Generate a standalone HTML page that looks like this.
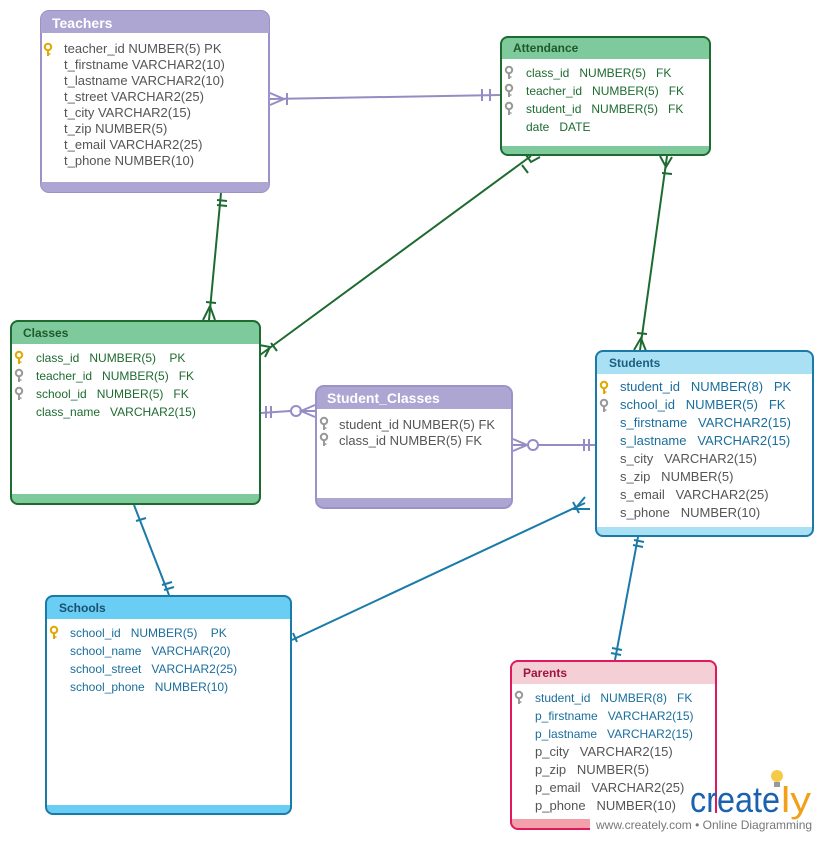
<!DOCTYPE html>
<html><head><meta charset="utf-8"><style>
body{margin:0;background:#fff;}
svg text{font-family:"Liberation Sans",sans-serif;white-space:pre;}
</style></head><body>
<svg width="825" height="840" viewBox="0 0 825 840" xmlns="http://www.w3.org/2000/svg" xml:space="preserve">
<defs>
<g id="key"><circle cx="0" cy="-4" r="3.2" fill="none" stroke-width="2"/><line x1="0" y1="-1" x2="0" y2="5" stroke-width="2"/><line x1="0" y1="3" x2="2.5" y2="3" stroke-width="1.5"/></g>
</defs>
<g fill="none" stroke-width="2">
<g stroke="#958CC4">
<line x1="270" y1="99" x2="500" y2="95"/>
<path d="M270 93 L284 99 L270 105"/><line x1="287" y1="93" x2="287" y2="105"/>
<line x1="482" y1="89" x2="482" y2="101"/><line x1="490" y1="89" x2="490" y2="101"/>
<line x1="261" y1="413" x2="290" y2="411"/><circle cx="296" cy="411" r="5"/><line x1="301" y1="411" x2="315" y2="411"/>
<path d="M315 405 L301 411 L315 417"/>
<line x1="266" y1="406" x2="266" y2="418"/><line x1="271" y1="406" x2="271" y2="418"/>
<line x1="513" y1="445" x2="528" y2="445"/><circle cx="533" cy="445" r="5"/><line x1="538" y1="445" x2="595" y2="445"/>
<path d="M513 439 L527 445 L513 451"/>
<line x1="584" y1="439" x2="584" y2="451"/><line x1="589" y1="439" x2="589" y2="451"/>
</g>
<g stroke="#1E6B30">
<line x1="221" y1="193" x2="209" y2="320"/>
<line x1="217" y1="200" x2="227" y2="201"/><line x1="217" y1="205" x2="227" y2="206"/>
<line x1="206" y1="302" x2="216" y2="303"/><path d="M203 320 L210 306 L215 320"/>
<line x1="531" y1="156" x2="260" y2="355"/>
<path d="M259 345 L270 347 L265 357"/><line x1="271" y1="343" x2="277" y2="351"/>
<line x1="522" y1="165" x2="528" y2="173"/><path d="M526 155 L531 162 L540 157"/>
<line x1="667" y1="156" x2="640" y2="350"/>
<path d="M660 156 L666 167 L672 157"/><line x1="662" y1="173" x2="672" y2="174"/>
<path d="M634 350 L641 338 L646 351"/><line x1="637" y1="333" x2="647" y2="334"/>
</g>
<g stroke="#1A7AA8">
<line x1="134" y1="505" x2="169" y2="595"/>
<line x1="136" y1="521" x2="146" y2="518"/>
<line x1="162" y1="585" x2="172" y2="582"/><line x1="164" y1="590" x2="174" y2="587"/>
<line x1="585" y1="503" x2="292" y2="640"/>
<path d="M585 497 L575 509 L590 509"/><line x1="573" y1="502" x2="579" y2="513"/>
<line x1="293" y1="633" x2="297" y2="642"/>
<line x1="638" y1="537" x2="615" y2="660"/>
<line x1="634" y1="540" x2="644" y2="542"/><line x1="633" y1="545" x2="643" y2="547"/>
<line x1="612" y1="648" x2="622" y2="650"/><line x1="611" y1="653" x2="621" y2="655"/>
</g>
</g>

<g>
<rect x="41" y="11" width="228" height="181" rx="8" fill="#fff" stroke="#9B92C9" stroke-width="2"/>
<path d="M41 33 V19 a8 8 0 0 1 8 -8 H261 a8 8 0 0 1 8 8 V33 Z" fill="#ADA6D3"/>
<path d="M41 182 H269 V184 a8 8 0 0 1 -8 8 H49 a8 8 0 0 1 -8 -8 Z" fill="#ADA6D3"/>
<text x="52" y="28" font-size="14" font-weight="bold" fill="#fff">Teachers</text>
<use href="#key" x="48" y="51" stroke="#E0A800"/>
<g font-size="13" fill="#555"><text x="64" y="53">teacher_id NUMBER(5) PK</text><text x="64" y="69">t_firstname VARCHAR2(10)</text><text x="64" y="85">t_lastname VARCHAR2(10)</text><text x="64" y="101">t_street VARCHAR2(25)</text><text x="64" y="117">t_city VARCHAR2(15)</text><text x="64" y="133">t_zip NUMBER(5)</text><text x="64" y="149">t_email VARCHAR2(25)</text><text x="64" y="165">t_phone NUMBER(10)</text></g>
</g>

<g>
<rect x="501" y="37" width="209" height="118" rx="7" fill="#fff"/>
<path d="M501 59 V44 a7 7 0 0 1 7 -7 H703 a7 7 0 0 1 7 7 V59 Z" fill="#7FCA9C"/>
<path d="M501 146 H710 V148 a7 7 0 0 1 -7 7 H508 a7 7 0 0 1 -7 -7 Z" fill="#7FCA9C"/>
<rect x="501" y="37" width="209" height="118" rx="7" fill="none" stroke="#1E6B30" stroke-width="2"/>
<text x="513" y="52" font-size="12" font-weight="bold" fill="#1E5A2A">Attendance</text>
<use href="#key" x="509" y="74" stroke="#999"/><use href="#key" x="509" y="92" stroke="#999"/><use href="#key" x="509" y="110" stroke="#999"/>
<g font-size="12" fill="#1E6B30"><text x="526" y="77">class_id   NUMBER(5)   FK</text><text x="526" y="95">teacher_id   NUMBER(5)   FK</text><text x="526" y="113">student_id   NUMBER(5)   FK</text><text x="526" y="131">date   DATE</text></g>
</g>

<g>
<rect x="11" y="321" width="249" height="183" rx="7" fill="#fff"/>
<path d="M11 344 V328 a7 7 0 0 1 7 -7 H253 a7 7 0 0 1 7 7 V344 Z" fill="#7FCA9C"/>
<path d="M11 494 H260 V497 a7 7 0 0 1 -7 7 H18 a7 7 0 0 1 -7 -7 Z" fill="#7FCA9C"/>
<rect x="11" y="321" width="249" height="183" rx="7" fill="none" stroke="#1E6B30" stroke-width="2"/>
<text x="23" y="337" font-size="12" font-weight="bold" fill="#1E5A2A">Classes</text>
<use href="#key" x="19" y="359" stroke="#E0A800"/><use href="#key" x="19" y="377" stroke="#999"/><use href="#key" x="19" y="395" stroke="#999"/>
<g font-size="12" fill="#1E6B30"><text x="36" y="362">class_id   NUMBER(5)    PK</text><text x="36" y="380">teacher_id   NUMBER(5)   FK</text><text x="36" y="398">school_id   NUMBER(5)   FK</text><text x="36" y="416">class_name   VARCHAR2(15)</text></g>
</g>

<g>
<rect x="316" y="386" width="196" height="122" rx="8" fill="#fff"/>
<path d="M316 409 V394 a8 8 0 0 1 8 -8 H504 a8 8 0 0 1 8 8 V409 Z" fill="#ADA6D3"/>
<path d="M316 498 H512 V500 a8 8 0 0 1 -8 8 H324 a8 8 0 0 1 -8 -8 Z" fill="#ADA6D3"/>
<rect x="316" y="386" width="196" height="122" rx="8" fill="none" stroke="#9B92C9" stroke-width="2"/>
<text x="327" y="403" font-size="14" font-weight="bold" fill="#fff">Student_Classes</text>
<use href="#key" x="324" y="425" stroke="#999"/><use href="#key" x="324" y="441" stroke="#999"/>
<g font-size="13" fill="#555"><text x="339" y="429">student_id NUMBER(5) FK</text><text x="339" y="445">class_id NUMBER(5) FK</text></g>
</g>

<g>
<rect x="596" y="351" width="217" height="185" rx="7" fill="#fff"/>
<path d="M596 374 V358 a7 7 0 0 1 7 -7 H806 a7 7 0 0 1 7 7 V374 Z" fill="#A9E0F3"/>
<path d="M596 527 H813 V529 a7 7 0 0 1 -7 7 H603 a7 7 0 0 1 -7 -7 Z" fill="#A9E0F3"/>
<rect x="596" y="351" width="217" height="185" rx="7" fill="none" stroke="#1A7AA8" stroke-width="2"/>
<text x="609" y="367" font-size="12" font-weight="bold" fill="#1A5F80">Students</text>
<use href="#key" x="604" y="389" stroke="#E0A800"/><use href="#key" x="604" y="407" stroke="#999"/>
<g font-size="13" fill="#1A6E9C"><text x="620" y="391">student_id   NUMBER(8)   PK</text><text x="620" y="409">school_id   NUMBER(5)   FK</text><text x="620" y="427">s_firstname   VARCHAR2(15)</text><text x="620" y="445">s_lastname   VARCHAR2(15)</text></g>
<g font-size="13" fill="#555"><text x="620" y="463">s_city   VARCHAR2(15)</text><text x="620" y="481">s_zip   NUMBER(5)</text><text x="620" y="499">s_email   VARCHAR2(25)</text><text x="620" y="517">s_phone   NUMBER(10)</text></g>
</g>

<g>
<rect x="46" y="596" width="245" height="218" rx="7" fill="#fff"/>
<path d="M46 619 V603 a7 7 0 0 1 7 -7 H284 a7 7 0 0 1 7 7 V619 Z" fill="#6ACDF4"/>
<path d="M46 805 H291 V807 a7 7 0 0 1 -7 7 H53 a7 7 0 0 1 -7 -7 Z" fill="#6ACDF4"/>
<rect x="46" y="596" width="245" height="218" rx="7" fill="none" stroke="#1A7AA8" stroke-width="2"/>
<text x="59" y="612" font-size="12" font-weight="bold" fill="#1A4F70">Schools</text>
<use href="#key" x="54" y="634" stroke="#E0A800"/>
<g font-size="12" fill="#1A6E9C"><text x="70" y="637">school_id   NUMBER(5)    PK</text><text x="70" y="655">school_name   VARCHAR(20)</text><text x="70" y="673">school_street   VARCHAR2(25)</text><text x="70" y="691">school_phone   NUMBER(10)</text></g>
</g>

<g>
<rect x="511" y="661" width="205" height="168" rx="7" fill="#fff"/>
<path d="M511 684 V668 a7 7 0 0 1 7 -7 H709 a7 7 0 0 1 7 7 V684 Z" fill="#F4D0D6"/>
<path d="M511 819 H716 V822 a7 7 0 0 1 -7 7 H518 a7 7 0 0 1 -7 -7 Z" fill="#F4A0AA"/>
<rect x="511" y="661" width="205" height="168" rx="7" fill="none" stroke="#E0195C" stroke-width="2"/>
<text x="523" y="677" font-size="12" font-weight="bold" fill="#A0143F">Parents</text>
<use href="#key" x="519" y="699" stroke="#999"/>
<g font-size="12" fill="#1A6E9C"><text x="535" y="702">student_id   NUMBER(8)   FK</text><text x="535" y="720">p_firstname   VARCHAR2(15)</text><text x="535" y="738">p_lastname   VARCHAR2(15)</text></g>
<g font-size="13" fill="#555"><text x="535" y="756">p_city   VARCHAR2(15)</text><text x="535" y="774">p_zip   NUMBER(5)</text><text x="535" y="792">p_email   VARCHAR2(25)</text><text x="535" y="810">p_phone   NUMBER(10)</text></g>
</g>

<rect x="590" y="813" width="230" height="22" fill="#fff"/>
<circle cx="777" cy="776" r="6" fill="#F7C948"/><rect x="774" y="782" width="6" height="5" fill="#999"/>
<text x="690" y="812" font-size="36" fill="#1A62B0" textLength="90" lengthAdjust="spacingAndGlyphs">create</text>
<text x="781" y="812" font-size="36" fill="#F2A019" textLength="30" lengthAdjust="spacingAndGlyphs">ly</text>
<text x="596" y="829" font-size="12" fill="#777">www.creately.com • Online Diagramming</text>
</svg>
</body></html>
